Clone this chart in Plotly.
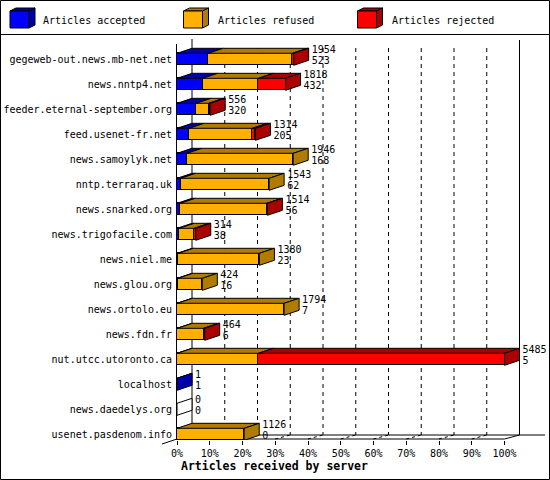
import plotly.graph_objects as go

# ---------------- data ----------------
servers = [
    "gegeweb-out.news.mb-net.net", "news.nntp4.net", "feeder.eternal-september.org",
    "feed.usenet-fr.net", "news.samoylyk.net", "nntp.terraraq.uk", "news.snarked.org",
    "news.trigofacile.com", "news.niel.me", "news.glou.org", "news.ortolo.eu",
    "news.fdn.fr", "nut.utcc.utoronto.ca", "localhost", "news.daedelys.org",
    "usenet.pasdenom.info",
]
total = [1954, 1818, 556, 1314, 1946, 1543, 1514, 314, 1380, 424, 1794, 464, 5485, 1, 0, 1126]
accepted = [523, 432, 320, 205, 168, 62, 56, 38, 23, 16, 7, 6, 5, 1, 0, 0]
refused = [1411, 932, 212, 1058, 1778, 1481, 1450, 250, 1357, 408, 1787, 440, 1359, 0, 0, 1126]
rejected = [20, 454, 24, 51, 0, 0, 8, 26, 0, 0, 0, 18, 4121, 0, 0, 0]
tick_pct = [0, 10, 20, 30, 40, 50, 60, 70, 80, 90, 100]
tick_text = ["0%", "10%", "20%", "30%", "40%", "50%", "60%", "70%", "80%", "90%", "100%"]
series_names = ["Articles accepted", "Articles refused", "Articles rejected"]
x_title = "Articles received by server"

# ---------------- styling / geometry ----------------
W, H = 550, 480
PL, PR, PT, PB = 177, 548, 44, 440          # plot area in pixels
FULL_PX = 327.5                              # pixels for 100 %
DX, DY = 15, 5                               # 3D depth (px)
ROW = 25.0                                   # px per row
ROW0 = 59.3                                  # px centre of first row
FRONT_H = 12                                 # px height of bar front
LABEL_GAP = 3                                # px between side face and value text
FONT = "DejaVu Sans Mono"
front_cols = ["#0000FF", "#FFB000", "#FF0000"]
dark_cols = ["#0000AA", "#B07C00", "#AA0000"]

max_total = max(total)
s = FULL_PX / max_total                      # px per article
x_range = [0, (PR - PL) / s]
r0 = -(ROW0 - PT) / ROW
r1 = r0 + (PB - PT) / ROW
dxu = DX / s
dyu = DY / ROW
half = FRONT_H / 2 / ROW
rows = list(range(len(servers)))


def pxx(px):
    return (px - PL) / (PR - PL)


def pxy(py):
    return (PB - py) / (PB - PT)


def pct_px(p):
    return PL + FULL_PX * p / 100.0


fig = go.Figure()

# front faces (stacked bars)
for vals, col, name in zip([accepted, refused, rejected], front_cols, series_names):
    fig.add_trace(go.Bar(
        y=rows, x=vals, orientation="h", name=name, width=2 * half,
        marker=dict(color=col, line=dict(color="black", width=1)),
        hoverinfo="skip", showlegend=False,
    ))

# 3D top and side faces
for i in rows:
    segs = [accepted[i], refused[i], rejected[i]]
    x0 = 0
    last = None
    for k, v in enumerate(segs):
        if v > 0:
            x1 = x0 + v
            fig.add_trace(go.Scatter(
                x=[x0, x1, x1 + dxu, x0 + dxu, x0],
                y=[i - half, i - half, i - half - dyu, i - half - dyu, i - half],
                mode="lines", fill="toself", fillcolor=dark_cols[k],
                line=dict(color="black", width=1), hoverinfo="skip", showlegend=False,
            ))
            x0 = x1
            last = k
    xe = x0
    side_col = dark_cols[last] if last is not None else "white"
    fig.add_trace(go.Scatter(
        x=[xe, xe + dxu, xe + dxu, xe, xe],
        y=[i - half, i - half - dyu, i + half - dyu, i + half, i - half],
        mode="lines", fill="toself", fillcolor=side_col,
        line=dict(color="black", width=1), hoverinfo="skip", showlegend=False,
    ))

# value labels (total on top line, accepted below)
lab_x = [t + (DX + LABEL_GAP) / s for t in total]
fig.add_trace(go.Scatter(
    x=lab_x, y=[i - 0.36 for i in rows], mode="text", text=[str(t) for t in total],
    textposition="middle right", textfont=dict(family=FONT, size=10, color="black"),
    cliponaxis=False, hoverinfo="skip", showlegend=False,
))
fig.add_trace(go.Scatter(
    x=lab_x, y=[i + 0.09 for i in rows], mode="text", text=[str(a) for a in accepted],
    textposition="middle right", textfont=dict(family=FONT, size=10, color="black"),
    cliponaxis=False, hoverinfo="skip", showlegend=False,
))

shapes = []
# back wall
back_top, back_bot = 40, 435
shapes.append(dict(type="line", xref="paper", yref="paper", layer="below",
                   x0=pxx(PL + DX), x1=pxx(PL + DX), y0=pxy(back_top - 1), y1=pxy(back_bot + 1),
                   line=dict(color="black", width=1)))
shapes.append(dict(type="line", xref="paper", yref="paper", layer="below",
                   x0=pxx(pct_px(100) + DX), x1=pxx(pct_px(100) + DX), y0=pxy(back_top), y1=pxy(back_bot),
                   line=dict(color="black", width=1)))
for p in tick_pct[1:-1]:
    xb = pct_px(p) + DX
    shapes.append(dict(type="line", xref="paper", yref="paper", layer="below",
                       x0=pxx(xb), x1=pxx(xb), y0=pxy(back_top + 8), y1=pxy(back_bot),
                       line=dict(color="black", width=1, dash="4px,4px")))
    # floor depth lines
    shapes.append(dict(type="line", xref="paper", yref="paper", layer="below",
                       x0=pxx(pct_px(p)), x1=pxx(xb), y0=pxy(PB - 1), y1=pxy(back_bot),
                       line=dict(color="black", width=1, dash="3px,3px")))
# floor
shapes.append(dict(type="line", xref="paper", yref="paper", layer="below",
                   x0=pxx(PL + DX), x1=pxx(545), y0=pxy(back_bot), y1=pxy(back_bot),
                   line=dict(color="black", width=1)))
shapes.append(dict(type="line", xref="paper", yref="paper", layer="below",
                   x0=pxx(PL), x1=pxx(pct_px(100)), y0=pxy(PB - 1), y1=pxy(PB - 1),
                   line=dict(color="black", width=1)))
shapes.append(dict(type="line", xref="paper", yref="paper", layer="below",
                   x0=pxx(pct_px(100)), x1=pxx(pct_px(100) + DX), y0=pxy(PB - 1), y1=pxy(back_bot),
                   line=dict(color="black", width=1)))
shapes.append(dict(type="line", xref="paper", yref="paper", layer="below",
                   x0=pxx(PL - DX), x1=pxx(PL), y0=pxy(PB + 4), y1=pxy(PB - 1),
                   line=dict(color="black", width=1)))

# outer border and legend separator
shapes.append(dict(type="rect", xref="paper", yref="paper", layer="above",
                   x0=pxx(0.5), x1=pxx(W - 0.5), y0=pxy(0.5), y1=pxy(H - 0.5),
                   line=dict(color="black", width=1)))
shapes.append(dict(type="line", xref="paper", yref="paper", layer="above",
                   x0=pxx(0), x1=pxx(W), y0=pxy(34.5), y1=pxy(34.5),
                   line=dict(color="black", width=1)))

# legend cubes
annotations = []
leg_x = [10, 183.5, 357.5]
leg_tx = [41, 215.5, 389.5]
cw, ch, cdx, cdy, cy = 19, 17, 6, 3, 11
for k in range(3):
    x0, y0 = leg_x[k], cy
    x1, y1 = x0 + cw, y0 + ch
    shapes.append(dict(type="path", xref="paper", yref="paper", layer="above",
                       path=f"M{pxx(x0)},{pxy(y0)} L{pxx(x0 + cdx)},{pxy(y0 - cdy)} "
                            f"L{pxx(x1 + cdx)},{pxy(y0 - cdy)} L{pxx(x1)},{pxy(y0)} Z",
                       fillcolor=dark_cols[k], line=dict(color="black", width=1)))
    shapes.append(dict(type="path", xref="paper", yref="paper", layer="above",
                       path=f"M{pxx(x1)},{pxy(y0)} L{pxx(x1 + cdx)},{pxy(y0 - cdy)} "
                            f"L{pxx(x1 + cdx)},{pxy(y1 - cdy)} L{pxx(x1)},{pxy(y1)} Z",
                       fillcolor=dark_cols[k], line=dict(color="black", width=1)))
    shapes.append(dict(type="rect", xref="paper", yref="paper", layer="above",
                       x0=pxx(x0), x1=pxx(x1), y0=pxy(y0), y1=pxy(y1),
                       fillcolor=front_cols[k], line=dict(color="black", width=1)))
    annotations.append(dict(text=series_names[k], xref="paper", yref="paper",
                            x=pxx(leg_tx[k]), y=pxy(20), xanchor="left", yanchor="middle",
                            showarrow=False, font=dict(family=FONT, size=10, color="black")))

annotations.append(dict(text=f"<b>{x_title}</b>", xref="paper", yref="paper",
                        x=pxx(179), y=pxy(466), xanchor="left", yanchor="middle",
                        showarrow=False, font=dict(family=FONT, size=11.5, color="black")))

fig.update_layout(
    template="none",
    width=W, height=H,
    margin=dict(l=PL, r=W - PR, t=PT, b=H - PB, pad=0),
    paper_bgcolor="white", plot_bgcolor="rgba(0,0,0,0)",
    barmode="stack", bargap=0, showlegend=False,
    shapes=shapes, annotations=annotations,
    xaxis=dict(range=x_range, tickvals=[p * max_total / 100 for p in tick_pct], ticktext=tick_text,
               ticks="outside", ticklen=4, tickcolor="black", tickwidth=1,
               showgrid=False, zeroline=False, showline=False, automargin=False, fixedrange=True,
               tickfont=dict(family=FONT, size=10, color="black")),
    yaxis=dict(range=[r1, r0], tickvals=rows, ticktext=servers, ticks="", ticklabelstandoff=2,
               showgrid=False, zeroline=False, showline=True, linecolor="black", linewidth=1,
               automargin=False, fixedrange=True,
               tickfont=dict(family=FONT, size=10, color="black")),
    font=dict(family=FONT, size=10, color="black"),
)

fig.write_html(
    "out.html",
    config={"displayModeBar": False},
    post_script="document.body.style.margin='0';document.body.style.overflow='hidden';",
)
